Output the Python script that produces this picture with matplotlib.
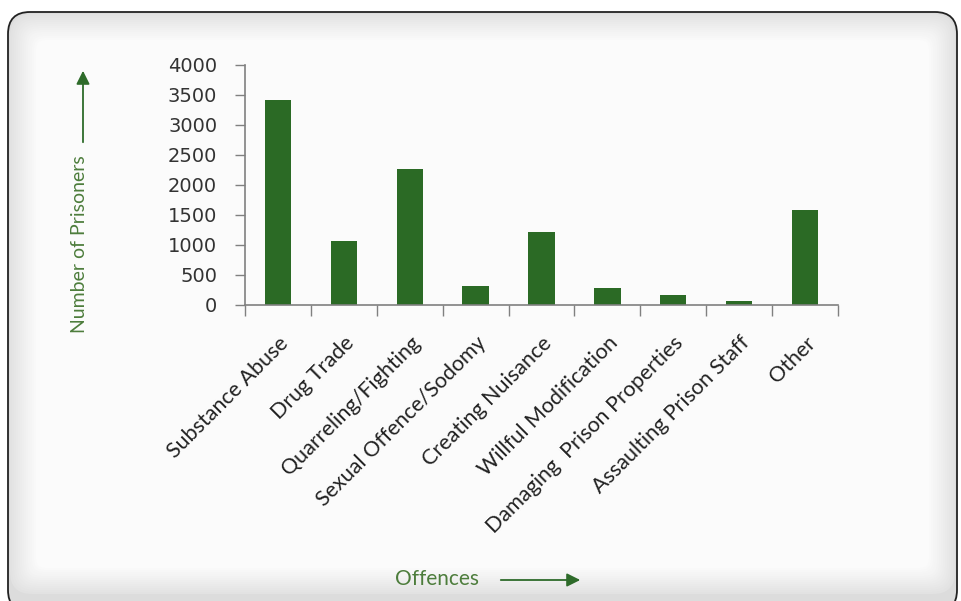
import matplotlib.pyplot as plt
from matplotlib.patches import FancyBboxPatch, FancyArrowPatch

# data
offences = ["Substance Abuse", "Drug Trade", "Quarreling/Fighting",
            "Sexual Offence/Sodomy", "Creating Nuisance", "Willful Modification",
            "Damaging  Prison Properties", "Assaulting Prison Staff", "Other"]
prisoners = [3420, 1060, 2270, 315, 1225, 285, 160, 60, 1585]
yticks = [0, 500, 1000, 1500, 2000, 2500, 3000, 3500, 4000]

W, H = 962, 601
bar_color = "#2b6a25"
label_green = "#4d7d3c"
arrow_green = "#2e6b2a"

fig = plt.figure(figsize=(W / 100, H / 100), dpi=100)
fig.patch.set_facecolor("white")

# framed panel with soft grey margin
bg = fig.add_axes([0, 0, 1, 1])
bg.set_xlim(0, W)
bg.set_ylim(H, 0)
bg.axis("off")
bg.add_patch(FancyBboxPatch((8, 12), 949, 600, boxstyle="round,pad=0,rounding_size=22",
                            facecolor="#dcdcdc", edgecolor="#222222", lw=1.3, zorder=0))
steps = 14
for i in range(steps):
    g = 0.88 + 0.105 * (i + 1) / steps
    m = 2 + i * 2.0
    bg.add_patch(FancyBboxPatch((8 + m, 12 + m), 949 - 2 * m, 584 - 2 * m,
                                boxstyle="round,pad=0,rounding_size=%d" % max(4, 22 - i),
                                facecolor=(g, g, g), edgecolor="none", zorder=1))

# axis titles with arrows
bg.text(80, 244, "Number of Prisoners", rotation=90, ha="center", va="center",
        color=label_green, fontsize=14, family="Lato", zorder=3)
bg.add_patch(FancyArrowPatch((83, 145), (83, 68), arrowstyle="-|>,head_length=8,head_width=4",
                             color=arrow_green, lw=1.3, zorder=3))
bg.text(437, 579, "Offences", ha="center", va="center",
        color=label_green, fontsize=15, family="Lato", zorder=3)
bg.add_patch(FancyArrowPatch((498, 580), (583, 580), arrowstyle="-|>,head_length=8,head_width=4",
                             color=arrow_green, lw=1.3, zorder=3))

ax = fig.add_axes([245 / W, 1 - 305 / H, (838 - 245) / W, 240 / H])
ax.set_facecolor("none")
x = list(range(len(offences)))
ax.bar(x, prisoners, width=0.4, color=bar_color, zorder=2)

ax.set_xlim(-0.5, len(offences) - 0.5)
ax.set_ylim(0, 4000)
ax.set_yticks(yticks)
ax.set_yticklabels([str(v) for v in yticks], fontsize=14, color="#333333", family="DejaVu Sans")

# boundary ticks on x, labels centred under bars
ax.set_xticks([i - 0.5 for i in range(len(offences) + 1)])
ax.set_xticklabels([])
ax.set_xticks(x, minor=True)
ax.set_xticklabels(offences, minor=True, rotation=45, ha="right", rotation_mode="anchor",
                   fontsize=15.5, color="#222222", family="Lato")
ax.tick_params(axis="x", which="major", length=8, width=1, color="#808080", direction="out")
ax.tick_params(axis="x", which="minor", length=0, pad=20)
ax.tick_params(axis="y", length=7, width=1, color="#808080", pad=13)

for side in ["top", "right"]:
    ax.spines[side].set_visible(False)
for side in ["left", "bottom"]:
    ax.spines[side].set_color("#808080")
    ax.spines[side].set_linewidth(1.2)

fig.savefig("out.png", dpi=100)
